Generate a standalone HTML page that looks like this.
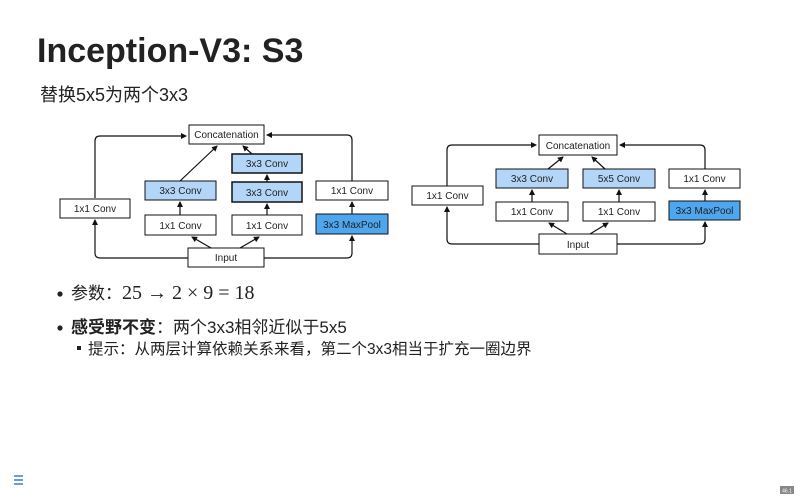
<!DOCTYPE html>
<html><head><meta charset="utf-8"><style>
html,body{margin:0;padding:0;background:#fff;}
svg{display:block;}
.t{font-family:"Liberation Sans","Noto Sans CJK SC",sans-serif;}
</style></head><body>
<svg width="800" height="500" viewBox="0 0 800 500" xmlns="http://www.w3.org/2000/svg">
<defs>
<marker id="a" markerWidth="6" markerHeight="6" refX="5" refY="3" orient="auto" markerUnits="userSpaceOnUse"><path d="M0,0 L6,3 L0,6 z" fill="#111"/></marker>
</defs>
<text class="t" x="37" y="62" font-size="34" font-weight="bold" fill="#222">Inception-V3: S3</text>
<text class="t" x="40" y="101" font-size="18" fill="#222">替换5x5为两个3x3</text>

<g class="t" font-size="10" fill="#222" stroke-width="1">
<g fill="none" stroke="#111" stroke-width="1.2">
<path d="M188,258 H100 Q95,258 95,253 V220" marker-end="url(#a)"/>
<path d="M95,198 V141 Q95,136 100,136 H186" marker-end="url(#a)"/>
<path d="M264,258 H347 Q352,258 352,253 V236" marker-end="url(#a)"/>
<path d="M352,181 V140 Q352,135 347,135 H267" marker-end="url(#a)"/>
<path d="M211,248 L192,237" marker-end="url(#a)"/>
<path d="M240,248 L259,237" marker-end="url(#a)"/>
<path d="M180,215 V202" marker-end="url(#a)"/>
<path d="M180,181 L217,146" marker-end="url(#a)"/>
<path d="M267,215 V204" marker-end="url(#a)"/>
<path d="M267,182 V175" marker-end="url(#a)"/>
<path d="M252,154 L243,146" marker-end="url(#a)"/>
<path d="M352,214 V202" marker-end="url(#a)"/>
</g>
<rect x="189" y="125" width="75" height="19" fill="#fff" stroke="#111"/>
<text x="226.5" y="138" text-anchor="middle">Concatenation</text>
<rect x="60" y="199" width="70" height="19" fill="#fff" stroke="#111"/>
<text x="95" y="212" text-anchor="middle">1x1 Conv</text>
<rect x="145" y="181" width="71" height="19" fill="#b3d5f8" stroke="#111"/>
<text x="180.5" y="194" text-anchor="middle">3x3 Conv</text>
<rect x="145" y="215" width="71" height="20" fill="#fff" stroke="#111"/>
<text x="180.5" y="229" text-anchor="middle">1x1 Conv</text>
<rect x="232" y="154" width="70" height="19" fill="#b3d5f8" stroke="#111" stroke-width="1.5"/>
<text x="267" y="167" text-anchor="middle">3x3 Conv</text>
<rect x="232" y="182" width="70" height="20" fill="#b3d5f8" stroke="#111" stroke-width="1.5"/>
<text x="267" y="196" text-anchor="middle">3x3 Conv</text>
<rect x="232" y="215" width="70" height="20" fill="#fff" stroke="#111"/>
<text x="267" y="229" text-anchor="middle">1x1 Conv</text>
<rect x="316" y="181" width="72" height="19" fill="#fff" stroke="#111"/>
<text x="352" y="194" text-anchor="middle">1x1 Conv</text>
<rect x="316" y="214" width="72" height="20" fill="#4ea6ee" stroke="#111"/>
<text x="352" y="228" text-anchor="middle">3x3 MaxPool</text>
<rect x="188" y="248" width="76" height="19" fill="#fff" stroke="#111"/>
<text x="226" y="261" text-anchor="middle">Input</text>

<g fill="none" stroke="#111" stroke-width="1.2">
<path d="M539,244 H452 Q447,244 447,239 V207" marker-end="url(#a)"/>
<path d="M447,186 V150 Q447,145 452,145 H536" marker-end="url(#a)"/>
<path d="M617,244 H700 Q705,244 705,239 V222" marker-end="url(#a)"/>
<path d="M705,169 V150 Q705,145 700,145 H620" marker-end="url(#a)"/>
<path d="M567,234 L549,223" marker-end="url(#a)"/>
<path d="M590,234 L608,223" marker-end="url(#a)"/>
<path d="M532,202 V190" marker-end="url(#a)"/>
<path d="M548,169 L563,157" marker-end="url(#a)"/>
<path d="M619,202 V190" marker-end="url(#a)"/>
<path d="M605,169 L592,157" marker-end="url(#a)"/>
<path d="M705,201 V190" marker-end="url(#a)"/>
</g>
<rect x="539" y="135" width="78" height="20" fill="#fff" stroke="#111"/>
<text x="578" y="149" text-anchor="middle">Concatenation</text>
<rect x="412" y="186" width="71" height="19" fill="#fff" stroke="#111"/>
<text x="447.5" y="199" text-anchor="middle">1x1 Conv</text>
<rect x="496" y="169" width="72" height="19" fill="#b3d5f8" stroke="#111"/>
<text x="532" y="182" text-anchor="middle">3x3 Conv</text>
<rect x="496" y="202" width="72" height="19" fill="#fff" stroke="#111"/>
<text x="532" y="215" text-anchor="middle">1x1 Conv</text>
<rect x="583" y="169" width="72" height="19" fill="#b3d5f8" stroke="#111"/>
<text x="619" y="182" text-anchor="middle">5x5 Conv</text>
<rect x="583" y="202" width="72" height="19" fill="#fff" stroke="#111"/>
<text x="619" y="215" text-anchor="middle">1x1 Conv</text>
<rect x="669" y="169" width="71" height="19" fill="#fff" stroke="#111"/>
<text x="704.5" y="182" text-anchor="middle">1x1 Conv</text>
<rect x="669" y="201" width="71" height="19" fill="#4ea6ee" stroke="#111"/>
<text x="704.5" y="214" text-anchor="middle">3x3 MaxPool</text>
<rect x="539" y="234" width="78" height="20" fill="#fff" stroke="#111"/>
<text x="578" y="248" text-anchor="middle">Input</text>
</g>

<circle cx="60" cy="294" r="2.6" fill="#222"/>
<text class="t" x="71" y="299" font-size="17" fill="#222">参数：<tspan font-family="Liberation Serif, serif" font-size="20">25 → 2 × 9 = 18</tspan></text>
<circle cx="60" cy="328" r="2.6" fill="#222"/>
<text class="t" x="71" y="333" font-size="17" fill="#222"><tspan font-weight="bold">感受野不变</tspan>：两个3x3相邻近似于5x5</text>
<rect x="77" y="346" width="4" height="4" fill="#222"/>
<text class="t" x="88" y="354" font-size="15.5" fill="#222">提示：从两层计算依赖关系来看，第二个3x3相当于扩充一圈边界</text>

<g stroke="#3a7bd5" stroke-width="1.5"><line x1="14" y1="476" x2="23" y2="476"/><line x1="14" y1="480" x2="23" y2="480"/><line x1="14" y1="484" x2="23" y2="484"/></g>
<rect x="780" y="486" width="14" height="8" fill="#888"/>
<text class="t" x="787" y="492.5" font-size="5" fill="#fff" text-anchor="middle">46.1</text>
</svg>
</body></html>
